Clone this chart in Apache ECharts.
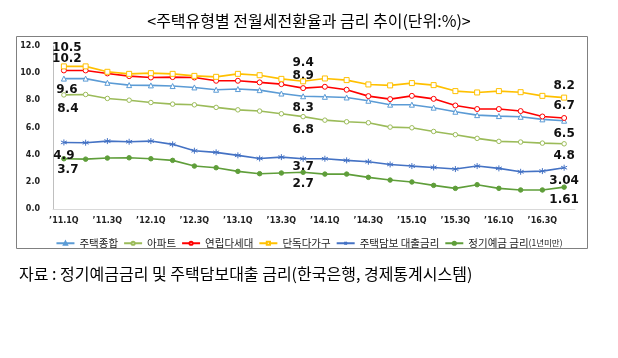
<!DOCTYPE html>
<html><head><meta charset="utf-8">
<script src="https://cdn.jsdelivr.net/npm/echarts@6/dist/echarts.min.js"></script>
<style>html,body{margin:0;padding:0;background:#fff}#c{width:618px;height:358px}</style>
</head><body><div id="c"></div>
<script>
var categories = ["’11.1Q","’11.2Q","’11.3Q","’11.4Q","’12.1Q","’12.2Q","’12.3Q","’12.4Q","’13.1Q","’13.2Q","’13.3Q","’13.4Q","’14.1Q","’14.2Q","’14.3Q","’14.4Q","’15.1Q","’15.2Q","’15.3Q","’15.4Q","’16.1Q","’16.2Q","’16.3Q","’16.4Q"];
var yTicks = [0, 2, 4, 6, 8, 10, 12];
var housingAll = [9.6, 9.6, 9.29, 9.12, 9.1, 9.05, 8.95, 8.78, 8.83, 8.75, 8.5, 8.3, 8.26, 8.21, 7.97, 7.68, 7.68, 7.46, 7.16, 6.91, 6.84, 6.79, 6.6, 6.5];
var apartment = [8.4, 8.43, 8.14, 8.01, 7.84, 7.72, 7.67, 7.48, 7.3, 7.21, 7.01, 6.8, 6.54, 6.42, 6.35, 6.03, 5.98, 5.71, 5.47, 5.2, 4.98, 4.93, 4.85, 4.8];
var rowHouse = [10.2, 10.2, 9.98, 9.78, 9.68, 9.71, 9.68, 9.44, 9.44, 9.32, 9.19, 8.9, 9.0, 8.78, 8.31, 8.09, 8.33, 8.11, 7.62, 7.36, 7.36, 7.21, 6.81, 6.7];
var detached = [10.5, 10.5, 10.1, 9.95, 10.0, 9.95, 9.8, 9.73, 9.95, 9.85, 9.58, 9.4, 9.61, 9.49, 9.17, 9.1, 9.27, 9.12, 8.68, 8.58, 8.68, 8.6, 8.33, 8.2];
var mortgageRate = [4.9, 4.88, 5.0, 4.95, 5.0, 4.76, 4.29, 4.17, 3.95, 3.72, 3.82, 3.7, 3.7, 3.58, 3.48, 3.28, 3.16, 3.06, 2.94, 3.16, 2.99, 2.74, 2.79, 3.04];
var depositRate = [3.7, 3.67, 3.75, 3.77, 3.7, 3.58, 3.16, 3.04, 2.77, 2.6, 2.65, 2.7, 2.57, 2.57, 2.33, 2.13, 1.99, 1.74, 1.52, 1.79, 1.52, 1.4, 1.4, 1.61];
var labelIdx = [0, 11, 23];

var chart = echarts.init(document.getElementById('c'));
var FONT = 'DejaVu Sans';
var KFONT = 'Noto Sans CJK KR';

function build(values, offsets) {
  return values.map(function (v, i) {
    var k = labelIdx.indexOf(i);
    if (k < 0) return v;
    return {
      value: v,
      label: {
        show: true, position: 'inside', offset: offsets[k],
        formatter: String(v), color: '#111', fontFamily: FONT,
        fontWeight: 'bold', fontSize: 12
      }
    };
  });
}
var asterisk = 'path://M0,-5L0,5M-4.3,-2.5L4.3,2.5M-4.3,2.5L4.3,-2.5M-0.01,0L0.01,0';

function ser(name, values, color, symbol, size, filled, offsets, z) {
  return {
    name: name, type: 'line', data: build(values, offsets), z: z,
    symbol: symbol, symbolSize: size, showSymbol: true,
    lineStyle: { color: color, width: 1.6 },
    itemStyle: { color: filled ? color : '#fff', borderColor: color, borderWidth: 1 },
    label: { show: false },
    emphasis: { disabled: true },
    animation: false
  };
}

chart.setOption({
  animation: false,
  title: [{
    text: '<주택유형별 전월세전환율과 금리 추이(단위:%)>',
    left: 'center', top: 8,
    textStyle: { fontFamily: KFONT, fontSize: 16, fontWeight: 'normal', color: '#000' }
  }, {
    text: '자료 : 정기예금금리 및 주택담보대출 금리(한국은행, 경제통계시스템)',
    left: 14, top: 261,
    textStyle: { fontFamily: KFONT, fontSize: 16, fontWeight: 'normal', color: '#000' }
  }],
  graphic: [{
    type: 'rect', shape: { x: 16.5, y: 36.5, width: 571, height: 212 },
    style: { fill: 'none', stroke: '#808080', lineWidth: 1 }, silent: true, z: -1
  }],
  legend: {
    top: 233, left: 'center', itemWidth: 18, itemHeight: 4, itemGap: 5,
    textStyle: { fontFamily: KFONT, fontSize: 10.5, color: '#222',
      rich: { s: { fontFamily: KFONT, fontSize: 8.5, color: '#222' } } },
    formatter: function (n) { return n === '정기예금 금리(1년미만)' ? '정기예금 금리{s|(1년미만)}' : n; },
    data: ['주택종합', '아파트', '연립다세대', '단독다가구', '주택담보 대출금리', '정기예금 금리(1년미만)']
  },
  grid: { left: 53, right: 43, top: 46, bottom: 149 },
  xAxis: {
    type: 'category', data: categories, boundaryGap: true,
    axisLine: { lineStyle: { color: '#d9d9d9', width: 1 } },
    axisTick: { show: false },
    axisLabel: { interval: 1, margin: 8, fontFamily: FONT, fontWeight: 'bold', fontSize: 8, color: '#222' }
  },
  yAxis: {
    type: 'value', min: yTicks[0], max: yTicks[yTicks.length - 1], interval: 2,
    axisLine: { show: true, lineStyle: { color: '#bfbfbf', width: 1 } },
    axisTick: { show: false }, splitLine: { show: false },
    axisLabel: { margin: 13, fontFamily: FONT, fontWeight: 'bold', fontSize: 8, color: '#222',
      formatter: function (v) { return v.toFixed(1); } }
  },
  series: [
    ser('주택종합', housingAll, '#5b9bd5', 'triangle', 5, false, [[3, 11], [0, 12], [0, 13]], 3),
    ser('아파트', apartment, '#9bbb59', 'circle', 4.5, false, [[4, 14], [0, 13], [0, 12]], 2),
    ser('연립다세대', rowHouse, '#ff0000', 'circle', 5, false, [[3, -12], [0, -12], [0, -12]], 4),
    ser('단독다가구', detached, '#ffc000', 'rect', 5, false, [[3, -19], [0, -18], [0, -12]], 5),
    ser('주택담보 대출금리', mortgageRate, '#4472c4', asterisk, 6, false, [[0, 13], [0, 8], [0, 13]], 2),
    ser('정기예금 금리(1년미만)', depositRate, '#5f9e3a', 'circle', 4.5, true, [[4, 11], [0, 12], [0, 13]], 1)
  ]
});
</script></body></html>
